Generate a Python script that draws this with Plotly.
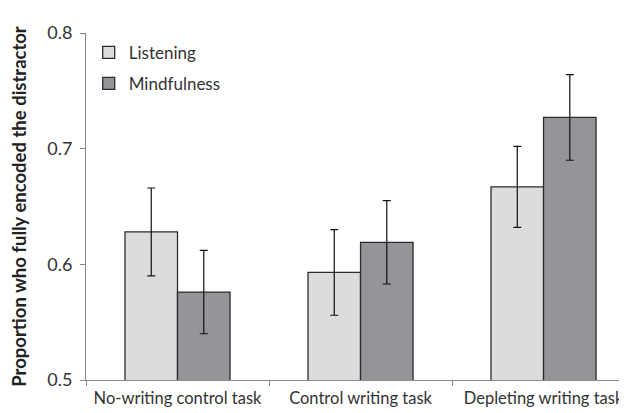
import plotly.graph_objects as go

categories = ["No-writing control task", "Control writing task", "Depleting writing task"]
listening = [0.628, 0.593, 0.667]
listening_err = [0.038, 0.037, 0.035]
mindfulness = [0.576, 0.619, 0.727]
mindfulness_err = [0.036, 0.036, 0.037]
y_ticks = [0.5, 0.6, 0.7, 0.8]

FONT = "Lato"
fig = go.Figure()
fig.add_trace(go.Bar(
    name="Listening", x=categories, y=listening, legendgroup="a",
    marker=dict(color="#dcdcde", line=dict(color="#2b2b2b", width=1.3)),
    error_y=dict(type="data", array=listening_err, color="#111111", thickness=1.2, width=4),
))
fig.add_trace(go.Bar(
    name="Mindfulness", x=categories, y=mindfulness, legendgroup="b",
    marker=dict(color="#939598", line=dict(color="#2b2b2b", width=1.3)),
    error_y=dict(type="data", array=mindfulness_err, color="#111111", thickness=1.2, width=4),
))
fig.update_layout(
    width=627, height=413,
    margin=dict(l=78, r=8, t=25, b=41),
    paper_bgcolor="white", plot_bgcolor="white",
    barmode="group", bargap=0.426, bargroupgap=0,
    font=dict(family=FONT, size=17, color="#333333"),
    legend=dict(x=0.005, y=0.995, xanchor="left", yanchor="top",
                font=dict(size=17, color="#333333"), tracegroupgap=6,
                bgcolor="rgba(0,0,0,0)"),
    xaxis=dict(range=[-0.5, 2.456], showline=True, linecolor="#888888", linewidth=1,
               ticks="outside", tickson="boundaries", ticklen=5, tickcolor="#888888",
               showgrid=False, tickfont=dict(size=16.5, color="#333333"), ticklabelstandoff=3),
    yaxis=dict(range=[0.5, 0.8], tickvals=y_ticks, ticktext=[f"{v:.1f}" for v in y_ticks],
               showline=True, linecolor="#888888", linewidth=1,
               ticks="outside", ticklen=5, tickcolor="#888888", showgrid=False, zeroline=False,
               tickfont=dict(size=18, color="#333333"), ticklabelstandoff=4,
               title=dict(text="<b>Proportion who fully encoded the distractor</b>",
                          font=dict(size=18.5, color="#222222"), standoff=18)),
)
fig.write_html("out.html")
